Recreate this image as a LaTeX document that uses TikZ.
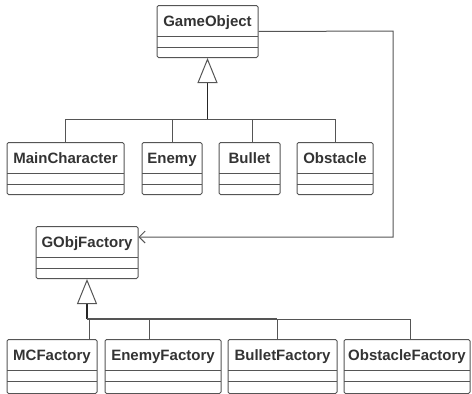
\documentclass[tikz,border=0pt]{standalone}
\usepackage{fontspec}
\setmainfont{Liberation Sans}
\usetikzlibrary{arrows.meta}
\definecolor{linegray}{HTML}{555555}
\definecolor{textgray}{HTML}{333333}
\begin{document}
\begin{tikzpicture}[
    x=1pt, y=-1pt,
    classbox/.style={draw=linegray, line width=1pt, rounded corners=1.5pt, anchor=north,
        inner xsep=0pt, inner ysep=0pt, text height=21pt, text depth=31pt,
        text=textgray, font=\fontsize{15}{18}\selectfont\bfseries,
        path picture={
            \draw[linegray, line width=1pt]
                ([yshift=-30.5pt]path picture bounding box.north west) -- ([yshift=-30.5pt]path picture bounding box.north east)
                ([yshift=-42pt]path picture bounding box.north west) -- ([yshift=-42pt]path picture bounding box.north east);
        }},
    lowbox/.style={classbox, text depth=33pt},
    link/.style={draw=linegray, line width=1pt},
    trunk/.style={draw=black!85, line width=1.6pt,
        -{Triangle[open, length=25pt, width=20pt, line width=1pt, color=linegray]}},
    assoc/.style={link, -{Straight Barb[length=6pt, width=12pt, line width=1pt]}},
]
\useasboundingbox (0,0) rectangle (472,394);

% Base class and its subclasses
\node[classbox, minimum width=101pt] (go) at (207.5, 5) {GameObject};
\node[classbox, minimum width=117pt] (mainchar) at (65.5, 142) {MainCharacter};
\node[classbox, minimum width=60pt] (enemy) at (172, 142) {Enemy};
\node[classbox, minimum width=61pt] (bullet) at (249.5, 142) {Bullet};
\node[classbox, minimum width=76pt] (obstacle) at (335, 142) {Obstacle};

\coordinate (gobus) at (207.5, 119);
\draw[trunk] (gobus) -- (go.south);
\draw[link] (gobus) -| (mainchar.north);
\draw[link] (gobus) -| (enemy.north);
\draw[link] (gobus) -| ([xshift=2.5pt]bullet.north);
\draw[link] (gobus) -| (obstacle.north);

% Factory and its subclasses
\node[classbox, minimum width=102pt] (gof) at (87, 226) {GObjFactory};
\node[lowbox, minimum width=90pt] (mcf) at (52, 339) {MCFactory};
\node[lowbox, minimum width=116pt] (enemyf) at (163, 339) {EnemyFactory};
\node[lowbox, minimum width=109pt] (bulletf) at (282.5, 339) {BulletFactory};
\node[lowbox, minimum width=126pt] (obstaclef) at (407, 339) {ObstacleFactory};

\coordinate (gofbus) at (87, 319);
\draw[trunk] (gofbus) -- (gof.south);
\draw[link] (gofbus) -| ([xshift=37pt]mcf.north);
\draw[link] (gofbus) -| ([xshift=-14pt]enemyf.north);
\draw[link] (gofbus) -| ([xshift=-5.5pt]bulletf.north);
\draw[link] (gofbus) -| ([xshift=3pt]obstaclef.north);
\draw[link, line width=1.5pt] (gofbus) -- ([xshift=-5.5pt]bulletf.north |- gofbus);

% Association
\coordinate (bend) at (393, 31);
\draw[assoc] (go.east) -- (bend) |- ([yshift=-11pt]gof.north east);

\end{tikzpicture}
\end{document}
